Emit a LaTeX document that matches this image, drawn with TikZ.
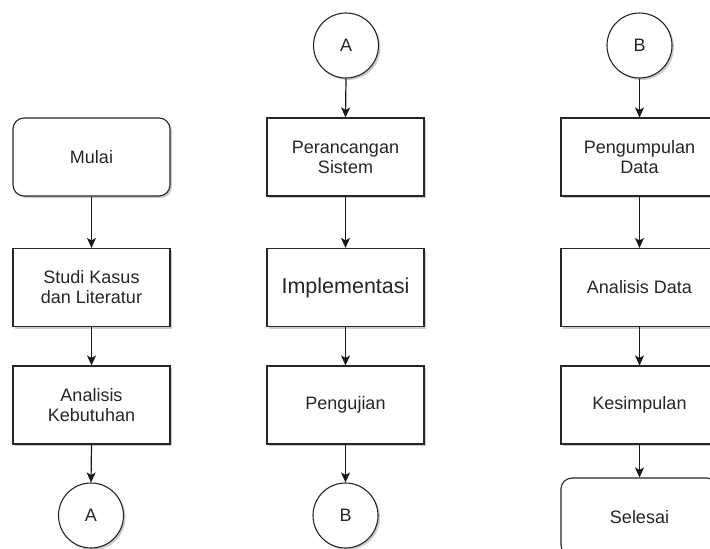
\documentclass[tikz,border=0pt]{standalone}
\usepackage{fontspec}
\setmainfont{Liberation Sans}
\usetikzlibrary{arrows.meta,shadows}
\begin{document}
\begin{tikzpicture}[x=1pt,y=-1pt,
  every node/.style={text=black!85},
  base/.style={draw=black!85, line width=1.1pt, fill=white, align=center,
    font=\fontsize{18}{20}\selectfont,
    drop shadow={shadow xshift=2pt, shadow yshift=-2pt, opacity=0.2, fill=black}},
  box/.style={base, rectangle, minimum width=157pt, minimum height=78pt, inner sep=0pt},
  term/.style={box, rounded corners=11pt},
  conn/.style={base, circle, minimum size=65pt, inner sep=0pt},
  arr/.style={draw=black!90, line width=1.2pt, -{Stealth[length=10pt,width=9pt,inset=2.5pt]}}]
\useasboundingbox (0,0) rectangle (710,549);
\clip (0,0) rectangle (710,549);
% left column
\node[term] (mulai) at (91.5,157) {Mulai};
\node[box] (studi) at (91.5,287.5) {Studi Kasus\\dan Literatur};
\node[box] (analisis) at (91.5,405) {Analisis\\Kebutuhan};
\node[conn] (ca1) at (91,515.5) {A};
% middle column
\node[conn] (ca2) at (346,45.5) {A};
\node[box] (perancangan) at (345.5,157) {Perancangan\\Sistem};
\node[box, font=\fontsize{21.5}{24}\selectfont] (impl) at (345.5,287.5) {Implementasi};
\node[box] (uji) at (345.5,405) {Pengujian};
\node[conn] (cb1) at (345.5,515.5) {B};
% right column
\node[conn] (cb2) at (639.5,45.5) {B};
\node[box] (kumpul) at (639.5,157) {Pengumpulan\\Data};
\node[box] (adata) at (639.5,287.5) {Analisis Data};
\node[box] (simpul) at (639.5,405) {Kesimpulan};
\node[term] (selesai) at (639.5,517) {Selesai};
% connectors
\draw[arr] (mulai.south) -- (studi.north);
\draw[arr] (studi.south) -- (analisis.north);
\draw[arr] (analisis.south) -- (ca1.north);
\draw[arr] (ca2.south) -- (perancangan.north);
\draw[arr] (perancangan.south) -- (impl.north);
\draw[arr] (impl.south) -- (uji.north);
\draw[arr] (uji.south) -- (cb1.north);
\draw[arr] (cb2.south) -- (kumpul.north);
\draw[arr] (kumpul.south) -- (adata.north);
\draw[arr] (adata.south) -- (simpul.north);
\draw[arr] (simpul.south) -- (selesai.north);
\end{tikzpicture}
\end{document}
